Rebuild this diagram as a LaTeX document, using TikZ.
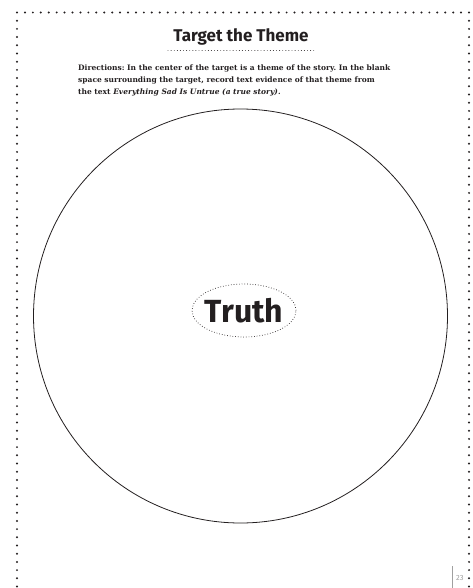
\documentclass[tikz,border=0pt]{standalone}
\usepackage{fontspec}
\setmainfont{DejaVu Serif}
\setsansfont{Fira Sans}
\usepackage{tikz}
\usetikzlibrary{calc, positioning, shapes.geometric}
\definecolor{ink}{RGB}{35,31,32}
\definecolor{pagenum}{RGB}{160,160,160}
\tikzset{
  frame dot/.style={fill=ink},
  rule dots/.style={ink, line width=0.9pt, line cap=round, dash pattern=on 0pt off 3.1pt},
}
\frenchspacing

\begin{document}
\begin{tikzpicture}[x=1pt, y=-1pt, font=\sffamily]
  \useasboundingbox (0,0) rectangle (473,588);

  % ---------- dotted page frame ----------
  \foreach \i in {0,...,57}{
    \fill[frame dot] ({17+\i*7.93},12.5) circle (1.1);
  }
  \foreach \j in {1,...,71}{
    \fill[frame dot] (17,{12.5+\j*8.2}) circle (1.1);
    \fill[frame dot] (469,{12.5+\j*8.2}) circle (1.1);
  }

  % ---------- title ----------
  \node[ink, font=\sffamily\bfseries\fontsize{17}{20}\selectfont] (title) at (241,37) {Target the Theme};
  \coordinate (ruleL) at (168,50.5);
  \coordinate (ruleR) at (316,50.5);
  \draw[rule dots] (ruleL) -- (ruleR);

  % ---------- directions ----------
  \node[ink, anchor=north west, align=left, inner sep=0pt,
        font=\rmfamily\bfseries\fontsize{7.5}{12}\selectfont] (dirs) at (78,64.5)
    {Directions: In the center of the target is a theme of the story. In the blank\\
     space surrounding the target, record text evidence of that theme from\\
     the text \textit{Everything Sad Is Untrue (a true story).}};

  % ---------- target ----------
  \node[draw=ink, line width=0.8pt, circle, minimum size=414, inner sep=0pt] (target) at (240.5,316) {};
  \node[draw=ink, line width=0.7pt, dotted, ellipse, minimum width=104, minimum height=53, inner sep=0pt] (theme) at (244,310.5) {};
  \node[ink, font=\sffamily\bfseries\fontsize{32}{38}\selectfont] (truth) at (theme.center) {Truth};

  % ---------- page number ----------
  \coordinate (tabT) at (452.5,566);
  \coordinate (tabB) at (452.5,588);
  \draw[pagenum, line width=1.4pt] (tabT) -- (tabB);
  \node[pagenum, anchor=west, inner sep=0pt, font=\sffamily\fontsize{7.5}{8}\selectfont] (pgno) at (456,578) {23};

\end{tikzpicture}
\end{document}
